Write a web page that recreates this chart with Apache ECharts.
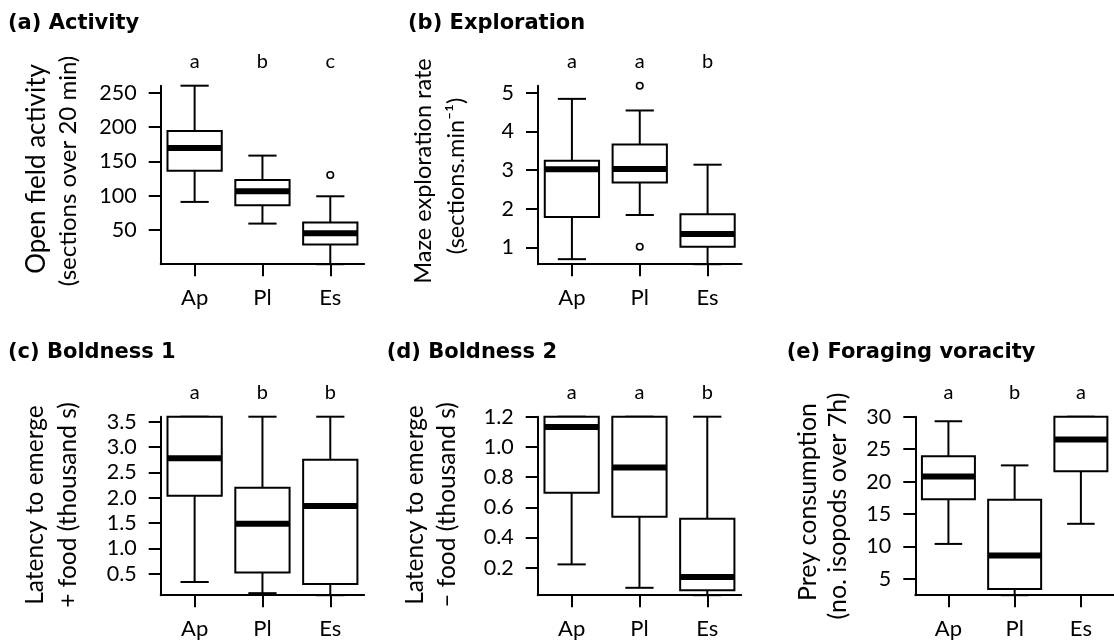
<!DOCTYPE html>
<html>
<head>
<meta charset="utf-8">
<script src="https://cdn.jsdelivr.net/npm/echarts@6/dist/echarts.min.js"></script>
<style>
  html, body { margin: 0; padding: 0; background: #fff; }
  #chart { width: 1114px; height: 642px; }
</style>
</head>
<body>
<div id="chart"></div>
<script>
const categories = ['Ap', 'Pl', 'Es'];

// Box summaries per group: [lower whisker, Q1, median, Q3, upper whisker]
const activityBoxes = [
  [90.8, 136.4, 169.4, 194.2, 260.2],
  [59.2, 85.9, 106.3, 122.8, 158.3],
  [0, 28.6, 45.1, 60.7, 99.0]
];
const activityOutliers = [[2, 130.1]]; // [group index, value]
const activityTicks = [50, 100, 150, 200, 250];
const activityLetters = ['a', 'b', 'c'];

const explorationBoxes = [
  [0.70, 1.79, 3.02, 3.24, 4.84],
  [1.84, 2.68, 3.03, 3.66, 4.54],
  [0.57, 1.02, 1.35, 1.86, 3.14]
];
const explorationOutliers = [[1, 5.18], [1, 1.02]];
const explorationTicks = [1, 2, 3, 4, 5];
const explorationLetters = ['a', 'a', 'b'];

const boldness1Boxes = [
  [0.34, 2.04, 2.78, 3.6, 3.6],
  [0.12, 0.53, 1.49, 2.2, 3.6],
  [0.08, 0.30, 1.84, 2.75, 3.6]
];
const boldness1Outliers = [];
const boldness1Ticks = [0.5, 1.0, 1.5, 2.0, 2.5, 3.0, 3.5];
const boldness1Letters = ['a', 'b', 'b'];

const boldness2Boxes = [
  [0.222, 0.696, 1.131, 1.2, 1.2],
  [0.067, 0.537, 0.863, 1.2, 1.2],
  [0.018, 0.05, 0.138, 0.524, 1.2]
];
const boldness2Outliers = [];
const boldness2Ticks = [0.2, 0.4, 0.6, 0.8, 1.0, 1.2];
const boldness2Letters = ['a', 'a', 'b'];

const voracityBoxes = [
  [10.4, 17.3, 20.8, 23.9, 29.3],
  [2.5, 3.45, 8.6, 17.2, 22.5],
  [13.5, 21.6, 26.5, 30, 30]
];
const voracityOutliers = [];
const voracityTicks = [5, 10, 15, 20, 25, 30];
const voracityLetters = ['a', 'b', 'a'];

const FONT = 'Lato, "DejaVu Sans", sans-serif';
const TITLE_FONT = 'bold 21px "DejaVu Sans", sans-serif';
const INK = '#000';

// Panel layout: data references plus where each panel sits on the page
const panels = [
  { title: '(a) Activity', yName: ['Open field activity', '(sections over 20 min)'], nameSize: [26, 24],
    boxes: activityBoxes, outliers: activityOutliers, ticks: activityTicks, letters: activityLetters, decimals: 0,
    left: 160.7, top: 85.7, titleX: 8, nameX: [36.7, 68.3], nameY: [169, 171] },
  { title: '(b) Exploration', yName: ['Maze exploration rate', '(sections.min\u207B\u00B9)'], nameSize: [23.5, 23.5],
    boxes: explorationBoxes, outliers: explorationOutliers, ticks: explorationTicks, letters: explorationLetters, decimals: 0,
    left: 538, top: 85.7, titleX: 408, nameX: [423.3, 456.7], nameY: [171, 176] },
  { title: '(c) Boldness 1', yName: ['Latency to emerge', '+ food (thousand s)'], nameSize: [24.5, 24.5],
    boxes: boldness1Boxes, outliers: boldness1Outliers, ticks: boldness1Ticks, letters: boldness1Letters, decimals: 1,
    left: 160.7, top: 416.7, titleX: 8, nameX: [35, 68.3], nameY: [505, 505] },
  { title: '(d) Boldness 2', yName: ['Latency to emerge', '\u2013 food (thousand s)'], nameSize: [24.5, 24.5],
    boxes: boldness2Boxes, outliers: boldness2Outliers, ticks: boldness2Ticks, letters: boldness2Letters, decimals: 1,
    left: 537.7, top: 416.7, titleX: 386.7, nameX: [415, 447.3], nameY: [505, 505] },
  { title: '(e) Foraging voracity', yName: ['Prey consumption', '(no. isopods over 7h)'], nameSize: [25, 25],
    boxes: voracityBoxes, outliers: voracityOutliers, ticks: voracityTicks, letters: voracityLetters, decimals: 0,
    left: 915.3, top: 416.7, titleX: 786.7, nameX: [808.3, 838.3], nameY: [502, 506] }
];

const GRID_W = 203.5;
const GRID_H = 178.5;

// Draws one box: white box, thick median bar, whiskers with half-width caps
function renderBox(params, api) {
  const idx = api.value(0);
  const pLow = api.coord([idx, api.value(1)]);
  const pQ1 = api.coord([idx, api.value(2)]);
  const pMed = api.coord([idx, api.value(3)]);
  const pQ3 = api.coord([idx, api.value(4)]);
  const pHigh = api.coord([idx, api.value(5)]);
  const band = api.size([1, 0])[0];
  const half = band * 0.4;
  const cap = half * 0.52;
  const x = pMed[0];
  const thin = { stroke: INK, lineWidth: 2 };
  return {
    type: 'group',
    children: [
      { type: 'line', shape: { x1: x, y1: pQ3[1], x2: x, y2: pHigh[1] }, style: thin },
      { type: 'line', shape: { x1: x, y1: pQ1[1], x2: x, y2: pLow[1] }, style: thin },
      { type: 'line', shape: { x1: x - cap, y1: pHigh[1], x2: x + cap, y2: pHigh[1] }, style: thin },
      { type: 'line', shape: { x1: x - cap, y1: pLow[1], x2: x + cap, y2: pLow[1] }, style: thin },
      { type: 'rect', shape: { x: x - half, y: pQ3[1], width: half * 2, height: pQ1[1] - pQ3[1] },
        style: { fill: '#fff', stroke: INK, lineWidth: 2 } },
      { type: 'line', shape: { x1: x - half, y1: pMed[1], x2: x + half, y2: pMed[1] },
        style: { stroke: INK, lineWidth: 6 } }
    ]
  };
}

const grid = [], xAxis = [], yAxis = [], series = [], graphic = [];

panels.forEach((p, i) => {
  const all = [];
  p.boxes.forEach(b => all.push(...b));
  p.outliers.forEach(o => all.push(o[1]));
  const yMin = Math.min(...all);
  const yMax = Math.max(...all);

  grid.push({ left: p.left, top: p.top, width: GRID_W, height: GRID_H, containLabel: false });

  xAxis.push({
    type: 'category', gridIndex: i, data: categories, position: 'bottom',
    axisLine: { show: true, onZero: false, lineStyle: { color: INK, width: 2 } },
    axisTick: { show: true, alignWithLabel: true, length: 12, lineStyle: { color: INK, width: 2 } },
    axisLabel: { color: INK, fontFamily: FONT, fontSize: 22, margin: 23 },
    splitLine: { show: false }
  });
  xAxis.push({
    type: 'category', gridIndex: i, data: p.letters, position: 'top',
    axisLine: { show: false }, axisTick: { show: false },
    axisLabel: { color: INK, fontFamily: FONT, fontSize: 20, margin: 14 },
    splitLine: { show: false }
  });
  yAxis.push({
    type: 'value', gridIndex: i, min: yMin, max: yMax,
    axisLine: { show: true, lineStyle: { color: INK, width: 2 } },
    axisTick: { show: true, length: 12, lineStyle: { color: INK, width: 2 }, customValues: p.ticks },
    axisLabel: {
      color: INK, fontFamily: FONT, fontSize: 21.5, margin: 24, customValues: p.ticks,
      formatter: v => Number(v).toFixed(p.decimals)
    },
    splitLine: { show: false }
  });

  series.push({
    type: 'custom', xAxisIndex: i * 2, yAxisIndex: i,
    encode: { x: 0, y: [1, 2, 3, 4, 5] },
    data: p.boxes.map((b, k) => [k, ...b]),
    renderItem: renderBox, z: 2, clip: false
  });
  if (p.outliers.length) {
    series.push({
      type: 'scatter', xAxisIndex: i * 2, yAxisIndex: i,
      data: p.outliers, symbol: 'circle', symbolSize: 6.5,
      itemStyle: { color: '#fff', borderColor: INK, borderWidth: 1.6, opacity: 1 },
      z: 3
    });
  }

  const titleBaseline = i < 2 ? 30.7 : 360;
  graphic.push({
    type: 'text', x: p.titleX, y: titleBaseline - 7,
    style: { text: p.title, font: TITLE_FONT, fill: INK, align: 'left', verticalAlign: 'middle' }
  });
  p.yName.forEach((line, k) => {
    graphic.push({
      type: 'text', x: p.nameX[k], y: p.nameY[k], rotation: Math.PI / 2,
      style: { text: line, font: p.nameSize[k] + 'px ' + FONT, fill: INK, align: 'center', verticalAlign: 'middle' }
    });
  });
});

const chart = echarts.init(document.getElementById('chart'), null, { renderer: 'canvas' });
chart.setOption({
  animation: false,
  backgroundColor: '#fff',
  grid, xAxis, yAxis, series, graphic
});
</script>
</body>
</html>
